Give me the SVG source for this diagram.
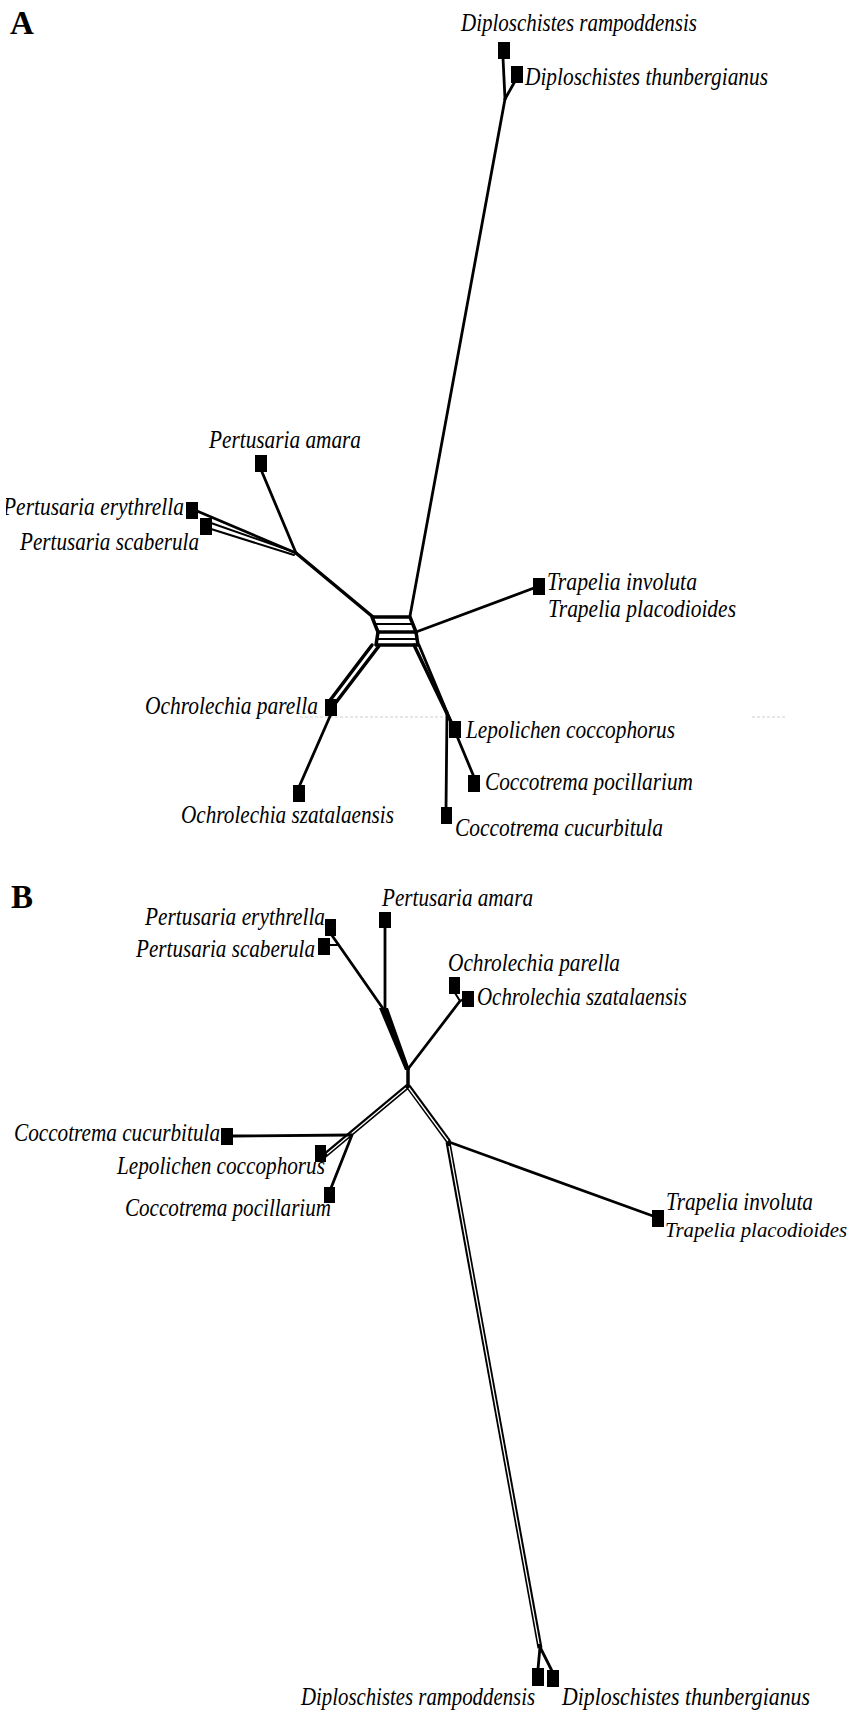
<svg xmlns="http://www.w3.org/2000/svg" width="853" height="1715" viewBox="0 0 853 1715">
<style>
.bg{fill:#fff}
.sq{fill:#000}
.lbl{font-family:"Liberation Serif","Times New Roman",serif;font-style:italic;font-size:25px;fill:#000}
.pan{font-family:"Liberation Serif","Times New Roman",serif;font-weight:bold;font-size:33px;fill:#000}
.e{stroke:#000;stroke-width:2.8;fill:none;stroke-linecap:round;stroke-linejoin:round}
.t{stroke:#000;stroke-width:3.5;fill:none;stroke-linecap:round;stroke-linejoin:round}
.thin{stroke:#000;stroke-width:2;fill:none;stroke-linecap:round}
.dblo{stroke:#000;stroke-width:5;fill:none;stroke-linecap:butt}
.dbli{stroke:#fff;stroke-width:1.3;fill:none;stroke-linecap:butt}
.art{stroke:#cfcfcf;stroke-width:1;stroke-dasharray:3 2;fill:none}
</style>
<defs>
<clipPath id="edgeclip"><rect x="6" y="0" width="847" height="1715"/></clipPath>
</defs>
<rect class="bg" x="0" y="0" width="853" height="1715"/>

<g id="panel-labels">
<text class="pan" x="10" y="34">A</text>
<text class="pan" x="11" y="908">B</text>
</g>

<g id="connectors">
<!-- Panel A -->
<line class="art" x1="300" y1="717" x2="450" y2="717"/>
<line class="art" x1="752" y1="717" x2="787" y2="717"/>
<!-- Diploschistes -->
<line class="e" x1="410" y1="616" x2="505" y2="99"/>
<line class="e" x1="505" y1="99" x2="503" y2="58"/>
<line class="e" x1="505" y1="99" x2="514" y2="83"/>
<!-- Pertusaria -->
<line class="e" x1="262" y1="472" x2="296" y2="553"/>
<line class="e" x1="197" y1="511" x2="296" y2="553"/>
<line class="thin" x1="211" y1="523" x2="294" y2="552"/>
<line class="thin" x1="211" y1="529" x2="294" y2="555"/>
<line class="t" x1="296" y1="553" x2="373" y2="617"/>
<!-- central box -->
<polyline class="t" points="378,632 372,617 410,617 416,632"/>
<polyline class="t" points="378,632 376,645 418,645 416,632"/>
<line class="thin" x1="375" y1="624" x2="413" y2="624"/>
<line class="t" x1="378" y1="632" x2="416" y2="632" stroke-dasharray="4 1.5"/>
<line class="thin" x1="377" y1="639" x2="417" y2="639"/>
<!-- Trapelia -->
<line class="e" x1="416" y1="632" x2="534" y2="588"/>
<!-- Ochrolechia -->
<line class="t" x1="372" y1="645" x2="328" y2="703"/>
<line class="t" x1="379" y1="646" x2="334" y2="705"/>
<line class="e" x1="331" y1="714" x2="299" y2="787"/>
<!-- Lepolichen / Coccotrema -->
<line class="t" x1="414" y1="645" x2="452" y2="724"/>
<line class="e" x1="419" y1="645" x2="474" y2="777"/>
<line class="e" x1="447" y1="712" x2="446" y2="809"/>

<!-- Panel B -->
<!-- Pertusaria -->
<line class="e" x1="385" y1="926" x2="385" y2="1012"/>
<line class="e" x1="331" y1="934" x2="384" y2="1010"/>
<line class="thin" x1="329" y1="945" x2="337" y2="945"/>
<polygon points="379,1008 388,1008 410,1070 405,1070" fill="#000"/>
<!-- Ochrolechia -->
<line class="e" x1="408" y1="1069" x2="460" y2="1001"/>
<line class="thin" x1="455" y1="993" x2="460" y2="1001"/>
<line class="thin" x1="464" y1="999" x2="460" y2="1001"/>
<!-- centre -->
<line class="t" x1="408" y1="1068" x2="408" y2="1086"/>
<!-- left double line to Lepolichen -->
<line class="dblo" x1="408" y1="1086" x2="324" y2="1156"/>
<line class="dbli" x1="406" y1="1088" x2="327" y2="1154"/>
<line class="e" x1="233" y1="1136" x2="351" y2="1135"/>
<line class="e" x1="352" y1="1135" x2="331" y2="1188"/>
<!-- right double line to Trapelia node -->
<line class="dblo" x1="408" y1="1086" x2="449" y2="1142"/>
<line class="dbli" x1="409" y1="1088" x2="448" y2="1141"/>
<line class="e" x1="449" y1="1142" x2="653" y2="1216"/>
<!-- long double line to Diploschistes -->
<line class="dblo" x1="448" y1="1142" x2="540" y2="1648"/>
<line class="dbli" x1="449" y1="1146" x2="539" y2="1644"/>
<line class="e" x1="540" y1="1647" x2="538" y2="1669"/>
<line class="e" x1="540" y1="1647" x2="552" y2="1671"/>
</g>

<!-- ===== Panel A nodes ===== -->
<g id="A-diploschistes-rampoddensis">
<rect class="sq" x="498" y="42" width="12" height="17"/>
<text class="lbl" x="461" y="31" textLength="236" lengthAdjust="spacingAndGlyphs">Diploschistes rampoddensis</text>
</g>
<g id="A-diploschistes-thunbergianus">
<rect class="sq" x="511" y="66" width="12" height="17"/>
<text class="lbl" x="525" y="85" textLength="243" lengthAdjust="spacingAndGlyphs">Diploschistes thunbergianus</text>
</g>
<g id="A-pertusaria-amara">
<rect class="sq" x="255" y="455" width="12" height="17"/>
<text class="lbl" x="209" y="448" textLength="152" lengthAdjust="spacingAndGlyphs">Pertusaria amara</text>
</g>
<g id="A-pertusaria-erythrella">
<rect class="sq" x="186" y="502" width="12" height="17"/>
<text class="lbl" x="3" y="515" textLength="181" lengthAdjust="spacingAndGlyphs" clip-path="url(#edgeclip)">Pertusaria erythrella</text>
</g>
<g id="A-pertusaria-scaberula">
<rect class="sq" x="200" y="518" width="12" height="17"/>
<text class="lbl" x="20" y="550" textLength="179" lengthAdjust="spacingAndGlyphs">Pertusaria scaberula</text>
</g>
<g id="A-trapelia">
<rect class="sq" x="533" y="578" width="12" height="17"/>
<text class="lbl" x="547" y="590" textLength="150" lengthAdjust="spacingAndGlyphs">Trapelia involuta</text>
<text class="lbl" x="548" y="617" textLength="188" lengthAdjust="spacingAndGlyphs">Trapelia placodioides</text>
</g>
<g id="A-ochrolechia-parella">
<rect class="sq" x="325" y="699" width="12" height="17"/>
<text class="lbl" x="145" y="714" textLength="173" lengthAdjust="spacingAndGlyphs">Ochrolechia parella</text>
</g>
<g id="A-ochrolechia-szatalaensis">
<rect class="sq" x="293" y="785" width="12" height="17"/>
<text class="lbl" x="181" y="823" textLength="213" lengthAdjust="spacingAndGlyphs">Ochrolechia szatalaensis</text>
</g>
<g id="A-lepolichen-coccophorus">
<rect class="sq" x="449" y="721" width="12" height="17"/>
<text class="lbl" x="466" y="738" textLength="209" lengthAdjust="spacingAndGlyphs">Lepolichen coccophorus</text>
</g>
<g id="A-coccotrema-pocillarium">
<rect class="sq" x="468" y="775" width="12" height="17"/>
<text class="lbl" x="485" y="790" textLength="208" lengthAdjust="spacingAndGlyphs">Coccotrema pocillarium</text>
</g>
<g id="A-coccotrema-cucurbitula">
<rect class="sq" x="441" y="807" width="11" height="17"/>
<text class="lbl" x="455" y="836" textLength="208" lengthAdjust="spacingAndGlyphs">Coccotrema cucurbitula</text>
</g>

<!-- ===== Panel B nodes ===== -->
<g id="B-pertusaria-erythrella">
<rect class="sq" x="325" y="919" width="11" height="17"/>
<text class="lbl" x="145" y="925" textLength="180" lengthAdjust="spacingAndGlyphs">Pertusaria erythrella</text>
</g>
<g id="B-pertusaria-scaberula">
<rect class="sq" x="318" y="938" width="12" height="17"/>
<text class="lbl" x="136" y="957" textLength="179" lengthAdjust="spacingAndGlyphs">Pertusaria scaberula</text>
</g>
<g id="B-pertusaria-amara">
<rect class="sq" x="379" y="912" width="12" height="16"/>
<text class="lbl" x="382" y="906" textLength="151" lengthAdjust="spacingAndGlyphs">Pertusaria amara</text>
</g>
<g id="B-ochrolechia-parella">
<rect class="sq" x="449" y="977" width="11" height="17"/>
<text class="lbl" x="448" y="971" textLength="172" lengthAdjust="spacingAndGlyphs">Ochrolechia parella</text>
</g>
<g id="B-ochrolechia-szatalaensis">
<rect class="sq" x="462" y="991" width="12" height="16"/>
<text class="lbl" x="477" y="1005" textLength="210" lengthAdjust="spacingAndGlyphs">Ochrolechia szatalaensis</text>
</g>
<g id="B-coccotrema-cucurbitula">
<rect class="sq" x="221" y="1128" width="12" height="17"/>
<text class="lbl" x="14" y="1141" textLength="206" lengthAdjust="spacingAndGlyphs">Coccotrema cucurbitula</text>
</g>
<g id="B-lepolichen-coccophorus">
<rect class="sq" x="315" y="1145" width="11" height="17"/>
<text class="lbl" x="117" y="1174" textLength="208" lengthAdjust="spacingAndGlyphs">Lepolichen coccophorus</text>
</g>
<g id="B-coccotrema-pocillarium">
<rect class="sq" x="324" y="1187" width="11" height="16"/>
<text class="lbl" x="125" y="1216" textLength="206" lengthAdjust="spacingAndGlyphs">Coccotrema pocillarium</text>
</g>
<g id="B-trapelia">
<rect class="sq" x="652" y="1210" width="12" height="17"/>
<text class="lbl" x="666" y="1210" textLength="147" lengthAdjust="spacingAndGlyphs">Trapelia involuta</text>
<text class="lbl" x="665" y="1237" font-size="21" style="font-size:21px" textLength="182" lengthAdjust="spacingAndGlyphs">Trapelia placodioides</text>
</g>
<g id="B-diploschistes-rampoddensis">
<rect class="sq" x="532" y="1668" width="12" height="18"/>
<text class="lbl" x="301" y="1705" textLength="234" lengthAdjust="spacingAndGlyphs">Diploschistes rampoddensis</text>
</g>
<g id="B-diploschistes-thunbergianus">
<rect class="sq" x="547" y="1670" width="12" height="17"/>
<text class="lbl" x="562" y="1705" textLength="248" lengthAdjust="spacingAndGlyphs">Diploschistes thunbergianus</text>
</g>
</svg>
